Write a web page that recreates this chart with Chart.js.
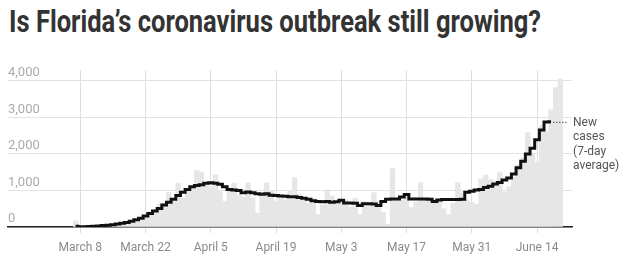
<!DOCTYPE html>
<html>
<head>
<meta charset="utf-8">
<script src="https://cdn.jsdelivr.net/npm/chart.js@4.4.0/dist/chart.umd.min.js"></script>
<style>
    html, body { margin: 0; padding: 0; background: #fff; }
    #wrap { position: relative; width: 619px; height: 263px; overflow: hidden; }
    #title {
        position: absolute; left: 9px; top: 3px; margin: 0;
        font-family: Roboto, sans-serif; font-weight: 700; font-size: 31px;
        line-height: 38px; color: #333; white-space: nowrap;
        transform-origin: 0 0;
    }
    canvas { position: absolute; left: 0; top: 0; }
</style>
</head>
<body>
<div id="wrap">
    <h1 id="title">Is Florida’s coronavirus outbreak still growing?</h1>
    <canvas id="cases-chart" width="619" height="263"></canvas>
</div>
<script>
// Daily categories: Feb 22 to June 21, 2020
const monthNames = ['January', 'February', 'March', 'April', 'May', 'June'];
const days = [];
for (let i = 0; i < 121; i++) {
    const d = new Date(2020, 1, 22 + i);
    days.push(monthNames[d.getMonth()] + ' ' + d.getDate());
}

// Labelled ticks on the x axis
const tickLabels = ['March 8', 'March 22', 'April 5', 'April 19', 'May 3', 'May 17', 'May 31', 'June 14'];
const yTicks = [0, 1000, 2000, 3000, 4000];
const noteLines = ['New', 'cases', '(7-day', 'average)'];

// Both series start on March 7
const seriesStart = 'March 7';

// Daily new cases, March 7 - June 19
const dailyCases = [
    // March 7-31
    170, 5, 5, 10, 15, 20, 25, 40, 45, 55, 110, 125, 140, 230, 250, 265, 420, 400, 620, 640, 950, 700, 1200, 800, 1030,
    // April
    1100, 1550, 1500, 1150, 1090, 1430, 1000, 700, 1060, 1200, 880, 820, 1210, 800, 380, 950, 1210, 1000, 700, 780,
    750, 1000, 1350, 900, 730, 650, 760, 340, 600, 1020,
    // May
    850, 650, 700, 730, 550, 780, 340, 700, 600, 940, 700, 400, 70, 1600, 800, 730, 830, 530, 680, 1210,
    750, 800, 750, 750, 500, 340, 650, 1210, 930, 740, 670,
    // June 1-19
    620, 1320, 1420, 1300, 1270, 1490, 960, 1100, 1370, 1700, 1900, 2580, 2020, 1760, 2780, 2610, 3210, 3820, 4050
];

// 7-day average, March 7 - June 17
const averageCases = [
    // March 7-31
    20, 10, 10, 15, 20, 30, 40, 50, 65, 80, 100, 125, 160, 200, 240, 300, 370, 440, 510, 600, 680, 760, 860, 950, 1030,
    // April
    1100, 1140, 1160, 1200, 1210, 1200, 1170, 1100, 1030, 1010, 1000, 940, 960, 940, 910, 900, 910, 870, 860, 850,
    840, 830, 830, 810, 790, 760, 720, 700, 690, 700,
    // May
    680, 690, 730, 660, 660, 650, 590, 640, 640, 630, 590, 700, 760, 770, 770, 820, 890, 770, 770, 770,
    770, 760, 700, 740, 750, 750, 750, 750, 760, 950, 980,
    // June 1-17
    1010, 1030, 1080, 1115, 1180, 1220, 1290, 1340, 1450, 1620, 1800, 2000, 2160, 2390, 2660, 2875, 2880
];

const startIndex = days.indexOf(seriesStart);
const lead = new Array(startIndex).fill(null);

// Dotted leader and label at the end of the average line
const endNote = {
    id: 'endNote',
    afterDatasetsDraw(chart) {
        const { ctx, scales: { x, y } } = chart;
        const last = averageCases.length - 1;
        const px = x.getPixelForValue(startIndex + last);
        const py = y.getPixelForValue(averageCases[last]);
        ctx.save();
        ctx.strokeStyle = '#555';
        ctx.lineWidth = 1;
        ctx.setLineDash([1.5, 1.5]);
        ctx.beginPath();
        ctx.moveTo(px + 2, py + 0.5);
        ctx.lineTo(px + 17, py + 0.5);
        ctx.stroke();
        ctx.setLineDash([]);
        ctx.fillStyle = '#555';
        ctx.font = '12px Roboto';
        ctx.textBaseline = 'middle';
        noteLines.forEach((t, k) => ctx.fillText(t, px + 22, py + 1 + k * 14.4));
        ctx.restore();
    }
};

new Chart(document.getElementById('cases-chart'), {
    type: 'bar',
    data: {
        labels: days,
        datasets: [
            {
                type: 'line',
                label: 'New cases (7-day average)',
                data: lead.concat(averageCases),
                borderColor: '#111',
                borderWidth: 3,
                stepped: 'middle',
                pointRadius: 0,
                fill: false,
                order: 0
            },
            {
                label: 'Daily new cases',
                data: lead.concat(dailyCases),
                backgroundColor: '#e6e6e6',
                borderWidth: 0,
                barPercentage: 1,
                categoryPercentage: 1,
                order: 1
            }
        ]
    },
    options: {
        responsive: false,
        animation: false,
        layout: { padding: { left: 8, right: 47, top: 70, bottom: 6 } },
        plugins: {
            legend: { display: false },
            tooltip: { enabled: false }
        },
        scales: {
            x: {
                offset: true,
                afterFit: (s) => { s.height = 30; },
                grid: {
                    offset: false,
                    color: (c) => tickLabels.includes(days[c.index]) ? '#dedede' : 'rgba(0,0,0,0)',
                    tickLength: 6
                },
                border: { display: true, color: '#222', width: 1.5 },
                ticks: {
                    autoSkip: false,
                    maxRotation: 0,
                    minRotation: 0,
                    padding: 8,
                    color: '#8a8a8a',
                    font: { family: 'Roboto', size: 12 },
                    callback: (v, i) => tickLabels.includes(days[i]) ? days[i] : ''
                }
            },
            y: {
                min: 0,
                max: 4300,
                afterBuildTicks: (s) => { s.ticks = yTicks.map(v => ({ value: v })); },
                afterFit: (s) => { s.width = 0; },
                grid: { color: '#e2e2e2', drawTicks: false },
                border: { display: false },
                ticks: {
                    mirror: true,
                    padding: 0,
                    labelOffset: -8,
                    color: '#ababab',
                    font: { family: 'Roboto', size: 13 },
                    callback: (v) => v.toLocaleString('en-US')
                }
            }
        }
    },
    plugins: [endNote]
});

// Squeeze the headline to the condensed width of the original
function fitTitle() {
    const t = document.getElementById('title');
    t.style.transform = 'none';
    const w = t.getBoundingClientRect().width;
    t.style.transform = 'scaleX(' + (532 / w) + ')';
}
fitTitle();
if (document.fonts) document.fonts.ready.then(fitTitle);
</script>
</body>
</html>
